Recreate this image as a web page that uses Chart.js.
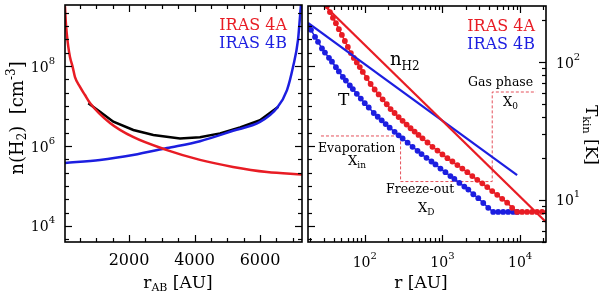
<!DOCTYPE html>
<html>
<head>
<meta charset="utf-8">
<script src="https://cdn.jsdelivr.net/npm/chart.js@4.4.1/dist/chart.umd.min.js"></script>
<style>
html, body { margin: 0; padding: 0; background: #fff; }
#wrap { position: relative; width: 600px; height: 293px; overflow: hidden; }
canvas { position: absolute; top: 0; }
#left { left: 0; }
#right { left: 304px; }
</style>
</head>
<body>
<div id="wrap">
  <canvas id="left" width="304" height="293"></canvas>
  <canvas id="right" width="296" height="293"></canvas>
</div>
<script>
// left panel: n(H2) along the line joining IRAS 4A and IRAS 4B
const rAB4A = [45, 67, 98, 147, 198, 281, 351, 504, 656, 809, 1420, 2122, 3160, 4167, 5175, 6213, 7280];
const nAB4A = [3.1e9, 1.41e9, 6.7e8, 3.0e8, 1.68e8, 9.4e7, 5.3e7, 3.0e7, 1.88e7, 1.19e7, 3.76e6, 1.68e6, 7.9e5, 4.5e5, 3.0e5, 2.24e5, 1.94e5];
const rAB4B = [46, 1114, 2122, 3160, 4167, 5175, 5999, 6518, 6824, 7007, 7160, 7220, 7250];
const nAB4B = [3.76e5, 4.47e5, 5.96e5, 8.9e5, 1.32e6, 2.4e6, 4.0e6, 8.9e6, 2.5e7, 9.4e7, 4.5e8, 1.68e9, 3.35e9];
const rABsum = [758, 1114, 1521, 2132, 2742, 3557, 4167, 4778, 5389, 5999, 6559];
const nABsum = [1.17e7, 7.2e6, 4.05e6, 2.51e6, 1.88e6, 1.55e6, 1.65e6, 2.07e6, 2.9e6, 4.4e6, 9.6e6];

// right panel: density power laws (left axis) and temperature profiles (right axis)
const rN4A = [30, 21500];
const nN4A = [3.3e9, 1.26e4];
const rN4B = [18.6, 9152];
const nN4B = [1.19e9, 1.88e5];

const rT4A = [29.8, 32.6, 35.6, 38.9, 42.5, 46.4, 50.7, 55.4, 60.5, 66.2, 72.3, 79.0, 86.3, 94.3,
  106, 119, 134, 151, 170, 192, 215, 242, 273, 307, 346, 389, 438, 492, 554,
  642, 744, 863, 1000, 1159, 1344, 1557, 1805, 2092, 2424, 2810, 3257, 3775, 4375, 5071, 5877, 6813, 7897, 9152,
  10607, 12294, 14250, 16515, 19146, 22190];
const T4A = [281, 255, 230, 209, 191, 173, 157, 142, 128.5, 116, 107, 99.3, 91.9, 84.8,
  76.6, 69.3, 63.2, 58.2, 53.6, 49.4, 45.6, 42.7, 39.9, 37.5, 35.2, 33.1, 31.3, 29.6, 28.0,
  26.1, 24.3, 22.8, 21.4, 20.1, 19.0, 17.9, 16.9, 15.9, 14.9, 14.0, 13.2, 12.4, 11.6, 10.9, 10.2, 9.56, 8.78, 8.19,
  8.19, 8.19, 8.19, 8.19, 8.19, 8.19];
const rT4B = [18.6, 20.3, 22.9, 25.0, 28.1, 30.7, 34.6, 37.8, 42.5, 46.4, 52.2, 57.1, 64.2, 70.2,
  79.0, 88.9, 100, 112.5, 130.5, 146.8, 165.2, 185.9, 209.2, 242.4, 272.9,
  307.1, 355.9, 412.5, 478.1, 538.0, 623.6, 722.8, 813.5, 942.8, 1093, 1266, 1425, 1652, 1915, 2154, 2497, 2894,
  3354, 3888, 4506, 5223, 6054, 7017, 8135, 9152];
const T4B = [182, 171, 152, 140, 125.5, 117, 107.3, 100.5, 91.7, 85.5, 77.9, 73.3, 67.7, 63.7,
  58.8, 54.3, 50.3, 46.8, 42.7, 40.1, 37.8, 35.5, 33.4, 31.2, 29.4,
  27.9, 26.0, 24.3, 22.7, 21.5, 20.2, 19.0, 18.1, 16.9, 15.9, 14.9, 14.2, 13.3, 12.5, 11.9, 11.0, 10.3,
  9.51, 8.78, 8.19, 8.19, 8.19, 8.19, 8.19, 8.19];

// abundance step profile (arbitrary units, drawn on the T axis)
const rStep = [27.3, 289, 289, 4375, 4375, 16000];
const xStep = [29.1, 29.1, 13.6, 13.6, 60.6, 60.6];

// tick labels
const rABTicks = [2000, 4000, 6000];
const nTickExps = [4, 6, 8];
const rTickExps = [2, 3, 4];
const TTickExps = [1, 2];

const RED = "#e81c24";
const BLUE = "#1c1ee0";
const SERIF = '"DejaVu Serif", serif';

function pts(xs, ys) {
    return xs.map((x, i) => ({ x: x, y: ys[i] }));
}

// draws text made of pieces [text, size, dy] side by side
function rich(ctx, parts, x, y, align, color) {
    let w = 0;
    parts.forEach(p => { ctx.font = p[1] + "px " + SERIF; w += ctx.measureText(p[0]).width; });
    let cx = align === "center" ? x - w / 2 : align === "right" ? x - w : x;
    ctx.fillStyle = color || "#000";
    ctx.textAlign = "left";
    ctx.textBaseline = "alphabetic";
    parts.forEach(p => {
        ctx.font = p[1] + "px " + SERIF;
        ctx.fillText(p[0], cx, y + (p[2] || 0));
        cx += ctx.measureText(p[0]).width;
    });
}

function pow10(e) {
    return [["10", 14], [String(e), 10, -8]];
}

function tick(ctx, x1, y1, x2, y2) {
    ctx.beginPath();
    ctx.moveTo(x1, y1);
    ctx.lineTo(x2, y2);
    ctx.stroke();
}

function thirdDecadeTicks(ctx, a, scale, sides) {
    for (let k = 9; k <= 30; k++) {
        const v = Math.pow(10, k / 3);
        if (v < scale.min || v > scale.max) continue;
        const py = Math.round(scale.getPixelForValue(v)) + 0.5;
        const len = k % 6 === 0 ? 7 : 4;
        if (sides.left) tick(ctx, a.left, py, a.left + len, py);
        if (sides.right) tick(ctx, a.right, py, a.right - len, py);
    }
}

function logTicks(ctx, scale, draw) {
    for (let d = -1; d <= 5; d++) {
        for (let m = 1; m <= 9; m++) {
            const v = m * Math.pow(10, d);
            if (v < scale.min || v > scale.max) continue;
            draw(Math.round(scale.getPixelForValue(v)) + 0.5, m === 1 ? 7 : 4);
        }
    }
}

const leftFrame = {
    id: "leftFrame",
    afterDraw(chart) {
        const { ctx, chartArea: a, scales: { x, y } } = chart;
        ctx.save();
        ctx.strokeStyle = "#000";
        ctx.lineWidth = 1.2;
        for (let v = 0; v <= 7500; v += 500) {
            if (v < x.min || v > x.max) continue;
            const px = Math.round(x.getPixelForValue(v)) + 0.5;
            const len = v % 2000 === 0 ? 7 : 4;
            tick(ctx, px, a.bottom, px, a.bottom - len);
            tick(ctx, px, a.top, px, a.top + len);
        }
        thirdDecadeTicks(ctx, a, y, { left: true, right: true });
        ctx.lineWidth = 1.6;
        ctx.strokeRect(a.left, a.top, a.right - a.left, a.bottom - a.top);

        rABTicks.forEach(v => rich(ctx, [[String(v), 16]], x.getPixelForValue(v), 265, "center"));
        nTickExps.forEach(e => rich(ctx, pow10(e), 55, y.getPixelForValue(Math.pow(10, e)) + 5.5, "right"));

        rich(ctx, [["r", 17], ["AB", 11, 3], [" [AU]", 17]], 178, 287.5, "center");
        ctx.translate(23, 118);
        ctx.rotate(-Math.PI / 2);
        rich(ctx, [["n(H", 18], ["2", 12, 3], [")  [cm", 18], ["-3", 12, -8], ["]", 18]], 0, 0, "center");
        ctx.setTransform(1, 0, 0, 1, 0, 0);

        rich(ctx, [["IRAS 4A", 16]], 287, 30, "right", RED);
        rich(ctx, [["IRAS 4B", 16]], 287, 48, "right", BLUE);
        ctx.restore();
    }
};

const rightFrame = {
    id: "rightFrame",
    afterDraw(chart) {
        const { ctx, chartArea: a, scales: { x, yT, yN } } = chart;
        ctx.save();
        ctx.strokeStyle = "#000";
        ctx.lineWidth = 1.2;
        logTicks(ctx, x, (px, len) => {
            tick(ctx, px, a.bottom, px, a.bottom - len);
            tick(ctx, px, a.top, px, a.top + len);
        });
        logTicks(ctx, yT, (py, len) => tick(ctx, a.right, py, a.right - len, py));
        thirdDecadeTicks(ctx, a, yN, { left: true });
        ctx.lineWidth = 1.6;
        ctx.strokeRect(a.left, a.top, a.right - a.left, a.bottom - a.top);

        // text positions below are page coordinates
        ctx.translate(-304, 0);
        rTickExps.forEach(e => rich(ctx, pow10(e), x.getPixelForValue(Math.pow(10, e)) + 304, 267, "center"));
        TTickExps.forEach(e => rich(ctx, pow10(e), 556, yT.getPixelForValue(Math.pow(10, e)) + 5.5, "left"));
        rich(ctx, [["r [AU]", 17]], 421, 287.5, "center");

        rich(ctx, [["IRAS 4A", 16]], 535, 31, "right", RED);
        rich(ctx, [["IRAS 4B", 16]], 535, 49, "right", BLUE);

        rich(ctx, [["n", 18], ["H2", 12, 5]], 390, 65, "left");
        rich(ctx, [["T", 17]], 338, 105, "left");
        rich(ctx, [["Gas phase", 12.5]], 468, 86, "left");
        rich(ctx, [["X", 13], ["0", 9, 3]], 503, 106, "left");
        rich(ctx, [["Evaporation", 12.5]], 318, 152, "left");
        rich(ctx, [["X", 13], ["in", 9, 3]], 348, 165, "left");
        rich(ctx, [["Freeze-out", 12.5]], 386, 193, "left");
        rich(ctx, [["X", 13], ["D", 9, 3]], 418, 212, "left");

        ctx.translate(586, 135);
        ctx.rotate(Math.PI / 2);
        rich(ctx, [["T", 17], ["kin", 11, 3], [" [K]", 17]], 0, 0, "center");
        ctx.restore();
    }
};

new Chart(document.getElementById("left"), {
    type: "line",
    data: {
        datasets: [
            { label: "IRAS 4A", data: pts(rAB4A, nAB4A), borderColor: RED, borderWidth: 2.5, pointRadius: 0, cubicInterpolationMode: "monotone" },
            { label: "IRAS 4B", data: pts(rAB4B, nAB4B), borderColor: BLUE, borderWidth: 2.5, pointRadius: 0, cubicInterpolationMode: "monotone" },
            { label: "total", data: pts(rABsum, nABsum), borderColor: "#000", borderWidth: 2.5, pointRadius: 0, tension: 0 }
        ]
    },
    options: {
        responsive: false,
        animation: false,
        devicePixelRatio: 1,
        datasets: { line: { clip: 0 } },
        layout: { padding: { left: 65, top: 5, right: 2, bottom: 51 } },
        plugins: { legend: { display: false }, tooltip: { enabled: false } },
        scales: {
            x: { type: "linear", min: 46, max: 7282, display: false },
            y: { type: "logarithmic", min: 3981, max: 3.35e9, display: false }
        }
    },
    plugins: [leftFrame]
});

new Chart(document.getElementById("right"), {
    type: "line",
    data: {
        datasets: [
            { label: "nH2 4A", data: pts(rN4A, nN4A), yAxisID: "yN", borderColor: RED, borderWidth: 2.2, pointRadius: 0 },
            { label: "nH2 4B", data: pts(rN4B, nN4B), yAxisID: "yN", borderColor: BLUE, borderWidth: 2.2, pointRadius: 0 },
            { label: "T 4A", data: pts(rT4A, T4A), yAxisID: "yT", borderColor: RED, backgroundColor: RED, borderWidth: 1.5,
              pointRadius: 2.9, pointBorderWidth: 0, pointBackgroundColor: RED },
            { label: "T 4B", data: pts(rT4B, T4B), yAxisID: "yT", borderColor: BLUE, backgroundColor: BLUE, borderWidth: 1.5,
              pointRadius: 2.9, pointBorderWidth: 0, pointBackgroundColor: BLUE },
            { label: "abundance", data: pts(rStep, xStep), yAxisID: "yT", borderColor: "#e5505a", borderWidth: 1,
              borderDash: [3, 2], pointRadius: 0 }
        ]
    },
    options: {
        responsive: false,
        animation: false,
        devicePixelRatio: 1,
        datasets: { line: { clip: 0 } },
        layout: { padding: { left: 3, top: 6, right: 54, bottom: 51 } },
        plugins: { legend: { display: false }, tooltip: { enabled: false } },
        scales: {
            x: { type: "logarithmic", min: 18.58, max: 21544, display: false },
            yT: { type: "logarithmic", position: "right", min: 4.96, max: 254.6, display: false },
            yN: { type: "logarithmic", position: "left", min: 3981, max: 3.16e9, display: false }
        }
    },
    plugins: [rightFrame]
});
</script>
</body>
</html>
